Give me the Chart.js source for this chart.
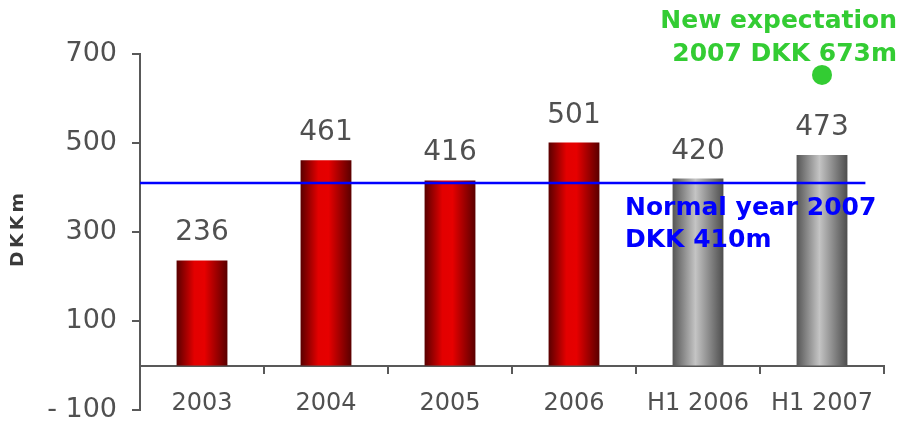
<!DOCTYPE html>
<html>
<head>
<meta charset="utf-8">
<script src="https://cdn.jsdelivr.net/npm/chart.js@4/dist/chart.umd.min.js"></script>
<style>
    html, body { margin: 0; padding: 0; background: #ffffff; }
</style>
</head>
<body>
<canvas id="chart" width="899" height="426"></canvas>
<script>
'use strict'

var categories = ['2003', '2004', '2005', '2006', 'H1 2006', 'H1 2007'];
var results = [236, 461, 416, 501, 420, 473];
var barKinds = ['year', 'year', 'year', 'year', 'half', 'half'];
var normalYear = 410;
var normalYearSpan = [-0.5, 5.35];
var expectation = [null, null, null, null, null, 653];
var yTicks = [-100, 100, 300, 500, 700];
var normalText = ['Normal year 2007', 'DKK 410m'];
var expectText = ['New expectation', '2007 DKK 673m'];
var yTitle = 'DKKm';

var axisGrey = '#595959';
var textGrey = '#505050';

function barGradient(context) {
    var chart = context.chart;
    var xs = chart.scales.x;
    if (!xs || !chart.chartArea) {
        return '#d00000';
    }
    var center = xs.getPixelForValue(context.dataIndex);
    var half = xs.width / categories.length * 0.41 / 2;
    var g = chart.ctx.createLinearGradient(center - half, 0, center + half, 0);
    if (barKinds[context.dataIndex] === 'year') {
        g.addColorStop(0, '#5a0000');
        g.addColorStop(0.35, '#e30000');
        g.addColorStop(0.55, '#e60000');
        g.addColorStop(1, '#5a0000');
    } else {
        g.addColorStop(0, '#555555');
        g.addColorStop(0.45, '#c4c4c4');
        g.addColorStop(1, '#4d4d4d');
    }
    return g;
}

// blue "normal year" line, drawn through the scales
var normalLinePlugin = {
    id: 'normalLine',
    afterDatasetsDraw: function (chart) {
        var c = chart.ctx;
        var xs = chart.scales.x;
        var y = chart.scales.y.getPixelForValue(normalYear);
        c.save();
        c.strokeStyle = '#0000ff';
        c.lineWidth = 2.5;
        c.beginPath();
        c.moveTo(xs.getPixelForValue(normalYearSpan[0]), y);
        c.lineTo(xs.getPixelForValue(normalYearSpan[1]), y);
        c.stroke();
        c.restore();
    }
};

var textPlugin = {
    id: 'textPlugin',
    afterDatasetsDraw: function (chart) {
        var c = chart.ctx;
        var meta = chart.getDatasetMeta(0);
        c.save();

        // value labels
        c.font = '28px "DejaVu Sans"';
        c.fillStyle = textGrey;
        c.textAlign = 'center';
        c.textBaseline = 'alphabetic';
        meta.data.forEach(function (bar, i) {
            c.fillText(String(results[i]), bar.x, bar.y - 20);
        });

        // normal year note
        var yNormal = chart.scales.y.getPixelForValue(normalYear);
        c.font = 'bold 25px "DejaVu Sans"';
        c.fillStyle = '#0000ff';
        c.textAlign = 'left';
        c.fillText(normalText[0], 625, yNormal + 32);
        c.fillText(normalText[1], 625, yNormal + 64);

        // expectation note
        c.fillStyle = '#33cc33';
        c.textAlign = 'right';
        c.fillText(expectText[0], 897, 28);
        c.fillText(expectText[1], 897, 61);

        // y title
        c.translate(19, 230);
        c.rotate(-Math.PI / 2);
        c.scale(1.1, 1);
        c.font = 'bold 17px "DejaVu Sans"';
        c.fillStyle = '#3a3a3a';
        c.letterSpacing = '3px';
        c.textAlign = 'center';
        c.textBaseline = 'middle';
        c.fillText(yTitle, 1.5, 0);
        c.restore();
    }
};

new Chart(document.getElementById('chart'), {
    type: 'bar',
    data: {
        labels: categories,
        datasets: [{
            type: 'bar',
            data: results,
            backgroundColor: barGradient,
            borderWidth: 0,
            barPercentage: 0.41,
            categoryPercentage: 1,
            order: 3
        }, {
            type: 'line',
            data: expectation,
            showLine: false,
            pointRadius: 10,
            pointBackgroundColor: '#33cc33',
            pointBorderColor: '#33cc33',
            pointBorderWidth: 0,
            order: 0
        }]
    },
    options: {
        responsive: false,
        animation: false,
        layout: {
            padding: { top: 54, bottom: 16, left: 0, right: 15 }
        },
        plugins: {
            legend: { display: false },
            tooltip: { enabled: false }
        },
        scales: {
            x: {
                position: { y: 0 },
                offset: true,
                afterFit: function (scale) {
                    scale.paddingLeft = 0;
                    scale.paddingRight = 0;
                    scale.paddingTop = 0;
                    scale.paddingBottom = 0;
                },
                grid: {
                    offset: true,
                    drawOnChartArea: false,
                    drawTicks: true,
                    tickLength: 7,
                    color: axisGrey,
                    lineWidth: 2
                },
                border: { color: axisGrey, width: 2 },
                ticks: {
                    color: textGrey,
                    font: { family: 'DejaVu Sans', size: 24 },
                    padding: 17,
                    maxRotation: 0,
                    autoSkip: false
                }
            },
            y: {
                min: -100,
                max: 700,
                afterBuildTicks: function (scale) {
                    scale.ticks = yTicks.map(function (v) { return { value: v }; });
                },
                afterFit: function (scale) {
                    scale.width = 140;
                    scale.paddingTop = 0;
                    scale.paddingBottom = 0;
                },
                grid: {
                    drawOnChartArea: false,
                    drawTicks: true,
                    tickLength: 8,
                    color: axisGrey,
                    lineWidth: 2
                },
                border: { color: axisGrey, width: 2 },
                ticks: {
                    color: textGrey,
                    font: { family: 'DejaVu Sans', size: 27 },
                    padding: 15,
                    callback: function (v) {
                        return v < 0 ? '- ' + Math.abs(v) : String(v);
                    }
                }
            }
        }
    },
    plugins: [normalLinePlugin, textPlugin]
});
</script>
</body>
</html>
